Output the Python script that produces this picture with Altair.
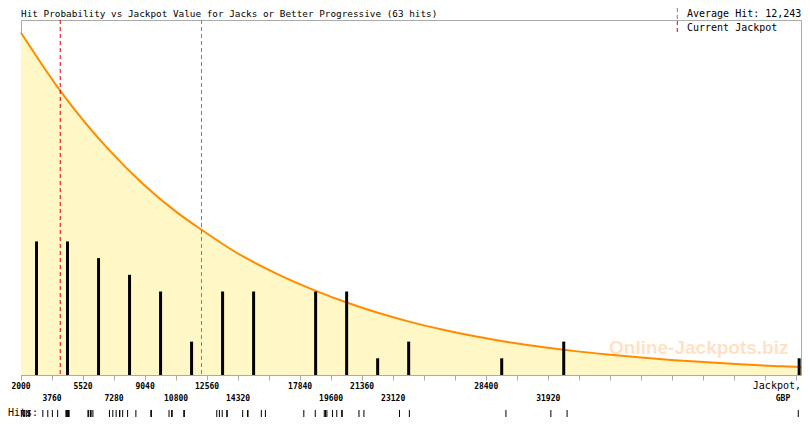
import altair as alt
import pandas as pd

# ---- data ----
curve_x = [2000, 4210, 7022, 8895, 10773, 12270, 13957, 16583, 18737, 20481, 22207, 24080,
           25958, 27831, 29704, 31582, 33455, 35311, 37206, 39079, 40952, 42830, 44703, 46109, 46265]
curve_y = [20.5, 17.05, 13.45, 11.47, 9.80, 8.68, 7.50, 6.03, 5.04, 4.34, 3.74, 3.18,
           2.71, 2.30, 1.96, 1.67, 1.43, 1.23, 1.05, 0.89, 0.76, 0.64, 0.54, 0.48, 0.47]

bar_x = [2880, 4640, 6400, 8160, 9920, 11680, 13440, 15200, 18720, 20480, 22240, 24000, 29280, 32800, 46160]
bar_n = [8, 8, 7, 6, 5, 2, 5, 5, 5, 5, 1, 2, 1, 2, 1]

hits = [2020, 2130, 2210, 2300, 2410, 2490, 3240, 3520,
        3780, 4080, 4550, 4590, 4630, 4670, 4700, 4730,
        5800, 5840, 5940, 5980, 6080, 7020, 7210,
        7400, 7590, 7610, 7770, 8050, 8520,
        9370, 9400, 10400, 10550, 10580,
        11240, 11270,
        13110, 13260, 13420, 13680, 13700,
        14580, 14860, 14880, 15640, 15870,
        18050, 18700, 19210, 19280, 19360,
        19680, 19920, 20200, 20230, 21180,
        21460,
        23480, 24040,
        29520,
        32070, 32990,
        46110]

tick_values = [2000, 3760, 5520, 7280, 9040, 10800, 12560, 14320, 16080, 17840, 19600, 21360, 23120,
               24880, 26640, 28400, 30160, 31920, 33680, 35440, 37200, 38960, 40720, 42480, 44240, 46000]
labels_row1 = [2000, 5520, 9040, 12560, 17840, 21360, 28400]
labels_row2 = [3760, 7280, 10800, 14320, 19600, 23120, 31920]

average_hit = 12243
current_jackpot = 4227

title_text = "Hit Probability vs Jackpot Value for Jacks or Better Progressive (63 hits)"

# ---- scales ----
xscale = alt.Scale(domain=[2000, 46265], nice=False, zero=False, padding=0)
yscale = alt.Scale(domain=[0, 21.26], nice=False, zero=True, padding=0)
xaxis = alt.Axis(values=tick_values, labels=False, title=None, grid=False, ticks=True,
                 tickColor="#aaaaaa", tickSize=5, domainColor="#aaaaaa")


def X(field):
    return alt.X(field, type="quantitative", scale=xscale, axis=xaxis)


def Y(field):
    return alt.Y(field, type="quantitative", scale=yscale, axis=None)


curve_df = pd.DataFrame({"x": curve_x, "y": curve_y})
bars_df = pd.DataFrame({"x": bar_x, "n": bar_n})
hits_df = pd.DataFrame({"x": hits})
row1_df = pd.DataFrame({"v": labels_row1})
row2_df = pd.DataFrame({"v": labels_row2})
vlines_df = pd.DataFrame({"x": [current_jackpot, average_hit], "kind": ["cur", "avg"]})

MONO = "DejaVu Sans Mono"

area = alt.Chart(curve_df).mark_area(color="#fff7c6", interpolate="monotone").encode(x=X("x"), y=Y("y"))
line = alt.Chart(curve_df).mark_line(color="#ff8c00", strokeWidth=2, interpolate="monotone").encode(
    x=X("x"), y=Y("y"))

vlines = alt.Chart(vlines_df).mark_rule(strokeWidth=1, strokeDash=[4, 3]).encode(
    x=X("x"),
    color=alt.Color("kind:N", scale=alt.Scale(domain=["cur", "avg"], range=["#e00000", "#4a90c0"]),
                    legend=None),
)

bars = alt.Chart(bars_df).mark_bar(color="black", size=3).encode(x=X("x"), y=Y("n"))

rug = alt.Chart(hits_df).mark_rule(color="black", strokeWidth=1).encode(
    x=X("x"), y=alt.value(390), y2=alt.value(398))

row1 = alt.Chart(row1_df).mark_text(font=MONO, fontSize=8, fontWeight="bold", baseline="alphabetic",
                                    align="center", color="black").encode(
    x=X("v"), y=alt.value(368.5), text=alt.Text("v:Q", format="d"))
row2 = alt.Chart(row2_df).mark_text(font=MONO, fontSize=8, fontWeight="bold", baseline="alphabetic",
                                    align="center", color="black").encode(
    x=X("v"), y=alt.value(380.7), text=alt.Text("v:Q", format="d"))


def label(text, x, y, **kw):
    opts = dict(font=MONO, fontSize=10, baseline="alphabetic", align="left", color="black")
    opts.update(kw)
    return alt.Chart(pd.DataFrame({"t": [text]})).mark_text(**opts).encode(
        text="t:N", x=alt.value(x), y=alt.value(y))


title = label(title_text, 0, -3.5, fontSize=9.35)
avg_lbl = label("Average Hit: {:,}".format(average_hit), 666, -3.5)
cur_lbl = label("Current Jackpot", 666, 10.7)
jack_lbl = label("Jackpot,", 780, 369, align="right")
gbp_lbl = label("GBP", 762, 380.7, fontSize=8, fontWeight="bold", align="center")
hits_lbl = label("Hits:", -13, 396)
watermark = label("Online-Jackpots.biz", 588, 334, font="Liberation Sans", fontSize=19,
                  fontWeight="bold", color="#ffa040", opacity=0.3)

leg_avg = alt.Chart(pd.DataFrame({"k": ["avg"]})).mark_rule(
    color="#4a90c0", strokeWidth=1, strokeDash=[4, 3]).encode(
    x=alt.value(656.3), y=alt.value(-12), y2=alt.value(-1))
leg_cur = alt.Chart(pd.DataFrame({"k": ["cur"]})).mark_rule(
    color="#e00000", strokeWidth=1, strokeDash=[4, 3]).encode(
    x=alt.value(656.3), y=alt.value(1), y2=alt.value(13))

chart = alt.layer(
    area, line, vlines, bars, watermark, rug, row1, row2,
    title, avg_lbl, cur_lbl, jack_lbl, gbp_lbl, hits_lbl, leg_avg, leg_cur,
).properties(
    width=780, height=355,
    padding={"left": 13, "top": 12, "right": 1, "bottom": 42},
    autosize=alt.AutoSizeParams(type="none"),
    background="white",
).configure_view(
    stroke="#aaaaaa", strokeWidth=1,
).configure_scale(
    continuousPadding=0,
)

chart.save("out.html", embed_options={"renderer": "svg", "actions": False})
